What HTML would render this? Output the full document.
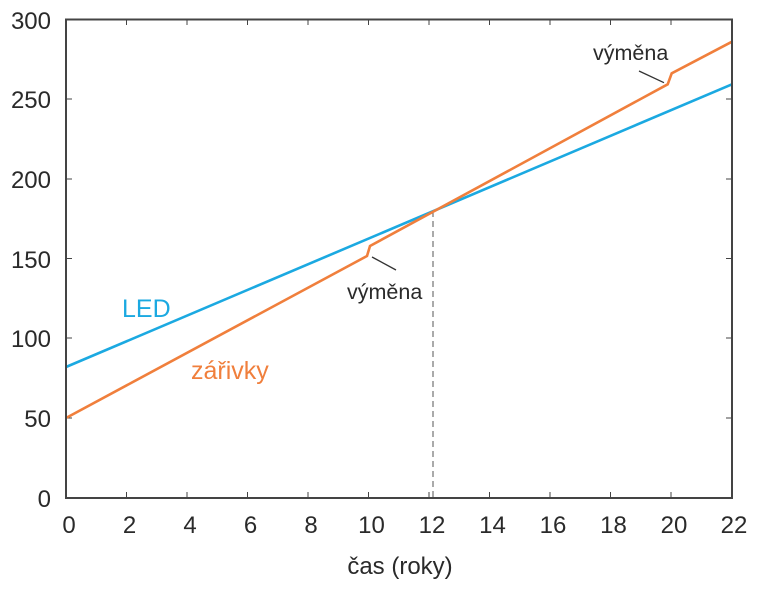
<!DOCTYPE html>
<html><head><meta charset="utf-8"><style>body{margin:0;background:#fff}</style></head><body>
<svg width="768" height="587" xmlns="http://www.w3.org/2000/svg" font-family="Liberation Sans, sans-serif">
<rect width="768" height="587" fill="#fff"/>
<g stroke="#444" stroke-width="1">
<line x1="126.5" y1="20" x2="126.5" y2="25"/><line x1="187" y1="20" x2="187" y2="25"/><line x1="247.5" y1="20" x2="247.5" y2="25"/><line x1="308" y1="20" x2="308" y2="25"/><line x1="368.5" y1="20" x2="368.5" y2="25"/><line x1="429" y1="20" x2="429" y2="25"/><line x1="489.5" y1="20" x2="489.5" y2="25"/><line x1="550" y1="20" x2="550" y2="25"/><line x1="610.5" y1="20" x2="610.5" y2="25"/><line x1="671" y1="20" x2="671" y2="25"/>
<line x1="126.5" y1="498" x2="126.5" y2="492"/><line x1="187" y1="498" x2="187" y2="492"/><line x1="247.5" y1="498" x2="247.5" y2="492"/><line x1="308" y1="498" x2="308" y2="492"/><line x1="368.5" y1="498" x2="368.5" y2="492"/><line x1="429" y1="498" x2="429" y2="492"/><line x1="489.5" y1="498" x2="489.5" y2="492"/><line x1="550" y1="498" x2="550" y2="492"/><line x1="610.5" y1="498" x2="610.5" y2="492"/><line x1="671" y1="498" x2="671" y2="492"/>
<line x1="66" y1="99" x2="72" y2="99"/><line x1="66" y1="179" x2="72" y2="179"/><line x1="66" y1="258.5" x2="72" y2="258.5"/><line x1="66" y1="338" x2="72" y2="338"/><line x1="66" y1="418" x2="72" y2="418"/>
<line x1="732" y1="99" x2="726" y2="99"/><line x1="732" y1="179" x2="726" y2="179"/><line x1="732" y1="258.5" x2="726" y2="258.5"/><line x1="732" y1="338" x2="726" y2="338"/><line x1="732" y1="418" x2="726" y2="418"/>
</g>
<line x1="433" y1="211" x2="433" y2="498" stroke="#555" stroke-width="1" stroke-dasharray="6,4"/>
<polyline points="66,367 732,84.3" fill="none" stroke="#1ba9e1" stroke-width="2.6"/>
<polyline points="66,418 367,256 370,246 667.7,84.3 671.7,73.3 732,41.7" fill="none" stroke="#f07f3c" stroke-width="2.6"/>
<line x1="372" y1="257" x2="396" y2="270" stroke="#333" stroke-width="1.3"/>
<line x1="639" y1="71" x2="664" y2="82.7" stroke="#333" stroke-width="1.3"/>
<rect x="66" y="19.5" width="666" height="478.5" fill="none" stroke="#444" stroke-width="2"/>
<g font-size="24" fill="#2a2a2a" text-anchor="end">
<text x="51" y="29">300</text><text x="51" y="108">250</text><text x="51" y="188">200</text><text x="51" y="268">150</text><text x="51" y="347">100</text><text x="51" y="427">50</text><text x="51" y="507">0</text>
</g>
<g font-size="24" fill="#2a2a2a" text-anchor="middle">
<text x="69" y="533">0</text><text x="129.5" y="533">2</text><text x="190" y="533">4</text><text x="250.5" y="533">6</text><text x="311" y="533">8</text><text x="371.5" y="533">10</text><text x="432" y="533">12</text><text x="492.5" y="533">14</text><text x="553" y="533">16</text><text x="613.5" y="533">18</text><text x="674" y="533">20</text><text x="734" y="533">22</text>
<text x="400" y="574">čas (roky)</text>
</g>
<text x="347" y="299" font-size="21.5" fill="#2a2a2a">výměna</text>
<text x="593" y="60" font-size="21.5" fill="#2a2a2a">výměna</text>
<text x="122" y="317" font-size="25" fill="#1ba9e1">LED</text>
<text x="191" y="379" font-size="25" fill="#f07f3c">zářivky</text>
</svg>
</body></html>
